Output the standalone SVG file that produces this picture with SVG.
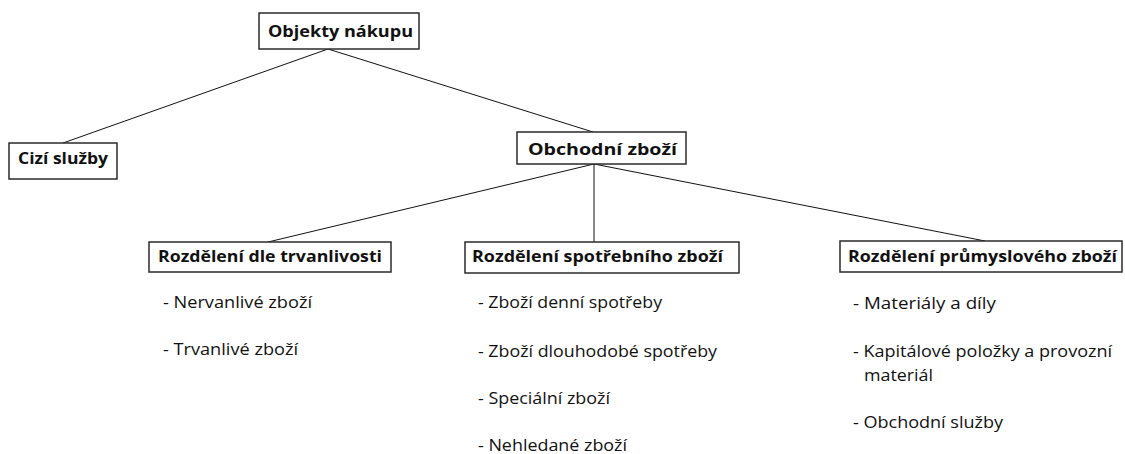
<svg xmlns="http://www.w3.org/2000/svg" width="1125" height="454" viewBox="0 0 1125 454">
  <style>
    .box { fill: #ffffff; stroke: #2b2b2b; stroke-width: 1.5; }
    .lbl { font-family: "Open Sans", "Liberation Sans", sans-serif; font-size: 16.5px; font-weight: bold; fill: #111111; }
    .item { font-family: "Open Sans", "Liberation Sans", sans-serif; font-size: 16px; fill: #111111; }
    .edge { stroke: #111111; stroke-width: 1; fill: none; }
  </style>
  <rect width="1125" height="454" fill="#ffffff"/>

  <!-- connectors -->
  <g id="connectors">
    <line class="edge" x1="328" y1="49" x2="63" y2="143"/>
    <line class="edge" x1="328" y1="49" x2="593" y2="132"/>
    <line class="edge" x1="594" y1="164" x2="268" y2="242"/>
    <line class="edge" x1="594" y1="164" x2="594" y2="242"/>
    <line class="edge" x1="594" y1="164" x2="985" y2="241"/>
  </g>

  <g id="objekty-nakupu">
    <rect class="box" x="259" y="13" width="160" height="36"/>
    <text class="lbl" x="268" y="37" textLength="145" lengthAdjust="spacingAndGlyphs">Objekty nákupu</text>
  </g>

  <g id="cizi-sluzby">
    <rect class="box" x="9" y="143" width="108" height="36"/>
    <text class="lbl" x="18" y="164" textLength="90" lengthAdjust="spacingAndGlyphs">Cizí služby</text>
  </g>

  <g id="obchodni-zbozi">
    <rect class="box" x="517" y="132" width="169" height="32"/>
    <text class="lbl" x="528" y="155" textLength="149" lengthAdjust="spacingAndGlyphs">Obchodní zboží</text>
  </g>

  <g id="trvanlivost">
    <rect class="box" x="149" y="242" width="242" height="30"/>
    <text class="lbl" x="158" y="262" textLength="224" lengthAdjust="spacingAndGlyphs">Rozdělení dle trvanlivosti</text>
    <text class="item" x="163" y="308" textLength="149" lengthAdjust="spacingAndGlyphs">- Nervanlivé zboží</text>
    <text class="item" x="163" y="355" textLength="135" lengthAdjust="spacingAndGlyphs">- Trvanlivé zboží</text>
  </g>

  <g id="spotrebni-zbozi">
    <rect class="box" x="465" y="242" width="274" height="31"/>
    <text class="lbl" x="472" y="262" textLength="251" lengthAdjust="spacingAndGlyphs">Rozdělení spotřebního zboží</text>
    <text class="item" x="478" y="308" textLength="184" lengthAdjust="spacingAndGlyphs">- Zboží denní spotřeby</text>
    <text class="item" x="478" y="357" textLength="239" lengthAdjust="spacingAndGlyphs">- Zboží dlouhodobé spotřeby</text>
    <text class="item" x="478" y="404" textLength="132" lengthAdjust="spacingAndGlyphs">- Speciální zboží</text>
    <text class="item" x="478" y="451" textLength="149" lengthAdjust="spacingAndGlyphs">- Nehledané zboží</text>
  </g>

  <g id="prumyslove-zbozi">
    <rect class="box" x="840" y="241" width="282" height="31"/>
    <text class="lbl" x="848" y="262" textLength="269" lengthAdjust="spacingAndGlyphs">Rozdělení průmyslového zboží</text>
    <text class="item" x="853" y="309" textLength="143" lengthAdjust="spacingAndGlyphs">- Materiály a díly</text>
    <text class="item" x="853" y="357" textLength="259" lengthAdjust="spacingAndGlyphs">- Kapitálové položky a provozní</text>
    <text class="item" x="864" y="381" textLength="69" lengthAdjust="spacingAndGlyphs">materiál</text>
    <text class="item" x="853" y="428" textLength="150" lengthAdjust="spacingAndGlyphs">- Obchodní služby</text>
  </g>
</svg>
